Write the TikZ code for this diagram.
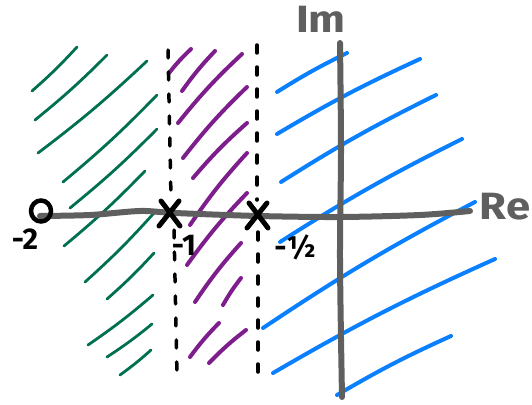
\documentclass[tikz,border=0pt]{standalone}
\usepackage{fontspec}
\setsansfont{Fira Sans}
\usepackage{xcolor}
\usepackage{tikz}
\usetikzlibrary{shapes.geometric,positioning,calc}
\definecolor{hgreen}{RGB}{0,112,80}
\definecolor{hpurple}{RGB}{125,30,140}
\definecolor{hblue}{RGB}{10,128,255}
\definecolor{axgray}{RGB}{95,95,95}
\tikzset{
  axisline/.style={draw=axgray, line width=6pt, line cap=round, line join=round},
  cutline/.style={draw=black, line width=3.5pt, line cap=round,
                  dash pattern=on 8pt off 14pt},
  greenhatch/.style={draw=hgreen, line width=2.8pt, line cap=round},
  purplehatch/.style={draw=hpurple, line width=4pt, line cap=round},
  bluehatch/.style={draw=hblue, line width=4pt, line cap=round},
  pole/.style={draw=black, line width=5pt, line cap=round},
  lbl/.style={font=\sffamily\bfseries\fontsize{30}{30}\selectfont, inner sep=0pt},
  axlbl/.style={font=\sffamily\bfseries\fontsize{38}{38}\selectfont, inner sep=0pt,
                text=axgray, xscale=1.15}
}
\begin{document}
\begin{tikzpicture}[x=1pt, y=-1pt]
  \useasboundingbox (0,0) rectangle (532,404);
  % hatching, left of -1
  \foreach \xa/\ya/\xb/\yb in {32/91/77/47, 35/120/107/55, 38/153/147/61,
      63/182/157/95, 70/208/157/129, 64/246/145/171, 85/282/154/213,
      107/299/154/253, 88/345/153/295, 107/357/152/324, 120/375/151/350}
    \draw[greenhatch] (\xa,\ya) to[bend right=3] (\xb,\yb);
  % hatching, between -1 and -1/2
  \foreach \xa/\ya/\xb/\yb in {169/73/191/49, 182/91/215/51, 178/123/242/54,
      183/158/247/87, 193/178/247/123, 190/225/247/153, 187/265/247/193,
      195/302/241/243, 223/305/241/278, 190/357/219/323, 209/363/246/330}
    \draw[purplehatch] (\xa,\ya) to[bend left=4] (\xb,\yb);
  % hatching, right of -1/2
  \foreach \xa/\ya/\xb/\yb in {277/92/347/53, 277/134/420/59, 281/182/436/95,
      280/242/462/139, 263/328/475/202, 273/373/495/259, 337/395/451/336}
    \draw[bluehatch] (\xa,\ya) to[bend left=3] (\xb,\yb);
  % axes
  \draw[axisline] plot[smooth] coordinates {(40,216) (90,215) (140,211)
      (175,213) (258,216) (340,217) (420,215) (470,211)};
  \draw[axisline] plot[smooth] coordinates {(340,43) (341,150) (340,260) (342,397)};
  \node[axlbl] (im) at (321,19) {Im};
  \node[axlbl] (re) at (505,207) {Re};
  % cuts through the poles
  \draw[cutline] (168,50) -- (171,198) (174,230) -- (177,375);
  \draw[cutline] (257,45) -- (257,200) (258,232) -- (258,377);
  % poles and zero
  \coordinate (p1) at (170,213);
  \coordinate (p2) at (258,215);
  \foreach \p in {p1,p2} {
    \draw[pole] ($(\p)+(-9,-12)$) -- ($(\p)+(10,13)$);
    \draw[pole] ($(\p)+(9,-12)$) -- ($(\p)+(-11,13)$);
  }
  \node[draw=black, line width=4.5pt, ellipse, minimum width=20pt,
        minimum height=21pt, inner sep=0pt] (zero) at (41,211) {};
  \node[lbl] (mtwo) at (25,239) {-2};
  \node[lbl] (mone) at (184,245) {-1};
  \node[lbl] (mhalf) at (295,247) {-½};
\end{tikzpicture}
\end{document}
